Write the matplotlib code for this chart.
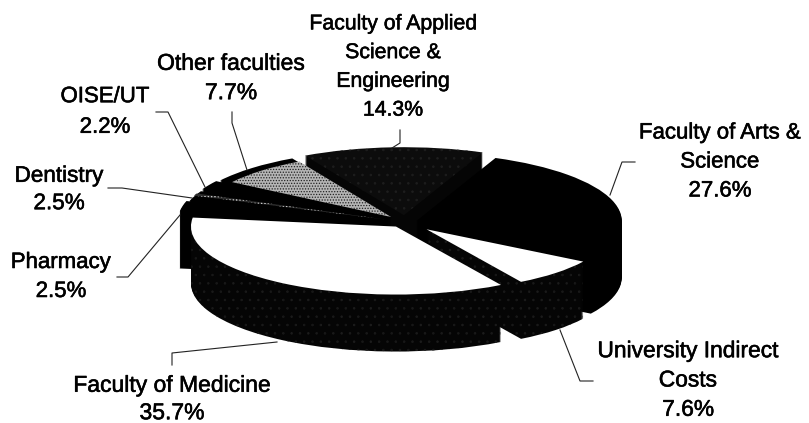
import matplotlib
matplotlib.use("Agg")
from matplotlib import pyplot as plt
from matplotlib import patheffects

plt.rcParams["font.family"] = ["Liberation Sans", "DejaVu Sans"]
plt.rcParams["hatch.linewidth"] = 0.6

categories = ["Faculty of Arts &\nScience", "University Indirect\nCosts", "Faculty of Medicine",
              "Pharmacy", "Dentistry", "OISE/UT", "Other faculties",
              "Faculty of Applied\nScience &\nEngineering"]
shares = [27.6, 7.6, 35.7, 2.5, 2.5, 2.2, 7.7, 14.3]
share_labels = ["27.6%", "7.6%", "35.7%", "2.5%", "2.5%", "2.2%", "7.7%", "14.3%"]

explode = [0.06, 0.15, 0.08, 0.11, 0.10, 0.10, 0.10, 0.10]
top_colors = ["#000000", "#ffffff", "#ffffff", "#000000", "#2a2a2a", "#000000", "#b5b5b5", "#0c0c0c"]
side_colors = ["#000000", "#050505", "#050505", "#000000", "#000000", "#000000", "#000000", "#050505"]
top_hatch = [None, None, None, None, ".....", None, "......", ".."]
side_hatch = [None, "..", "..", None, None, None, None, None]
hatch_colors = {"..": "#1e1e1e", ".....": "#cccccc", "......": "#222222"}

W, H = 809, 423
cx, cy = 405, 222
rx, ry = 205, 68
depth = 57

fig = plt.figure(figsize=(W / 100, H / 100), dpi=100)
ax = fig.add_axes([0, 0, 1, 1])


def draw_layer(d, colors, hatches):
    wedges, _ = ax.pie(shares, explode=explode, colors=colors, startangle=67.4, counterclock=False,
                       center=(0, -d / ry), radius=1, frame=True,
                       wedgeprops={"linewidth": 0})
    wedges[1].set_radius(0.9)
    for w, h in zip(wedges, hatches):
        if h:
            w.set_hatch(h)
            w.set_edgecolor(hatch_colors[h])
    return wedges


for d in range(depth, 0, -1):
    draw_layer(d, side_colors, side_hatch)
top = draw_layer(0, top_colors, top_hatch)
# black rim round the grey wedge, thin dentistry streak
top[6].set_radius(0.93)
top[4].set_theta1(top[4].theta1 + 3)
top[4].set_theta2(top[4].theta2 - 4)

# pie data units are stretched so that one unit is rx wide and ry tall
ax.set_aspect("auto")
ax.set_xlim(-cx / rx, (W - cx) / rx)
ax.set_ylim(-(H - cy) / ry, cy / ry)
ax.axis("off")

# labels and leaders in pixel coords
ov = fig.add_axes([0, 0, 1, 1])
ov.set_xlim(0, W)
ov.set_ylim(H, 0)
ov.axis("off")
ov.patch.set_alpha(0)

label_pos = [(720, 162, 16, 1.5), (688, 380, 16.4, 1.35), (172, 399, 16.5, 1.25), (61, 277, 16, 1.5),
             (59, 190, 16.2, 1.4), (105, 112, 16, 1.6), (231, 78, 16.5, 1.35), (393, 67, 15.3, 1.65)]
bold = [patheffects.withStroke(linewidth=0.4, foreground="black")]
for cat, pct, (x, y, fs, ls) in zip(categories, share_labels, label_pos):
    ov.text(x, y, cat + "\n" + pct, ha="center", va="center", fontsize=fs, linespacing=ls, color="black",
            path_effects=bold)

leaders = [([635, 622, 610], [162, 162, 195]),
           ([593, 580, 560], [381, 381, 330]),
           ([172, 172, 277], [365, 353, 342]),
           ([117, 128, 180], [277, 277, 215]),
           ([108, 122, 192], [188, 188, 198]),
           ([156, 168, 205], [112, 112, 187]),
           ([232, 232, 247], [112, 123, 170]),
           ([400, 400, 392], [130, 143, 148])]
for xs, ys in leaders:
    ov.plot(xs, ys, color="#222222", lw=0.8)

fig.savefig("out.png", dpi=100)
